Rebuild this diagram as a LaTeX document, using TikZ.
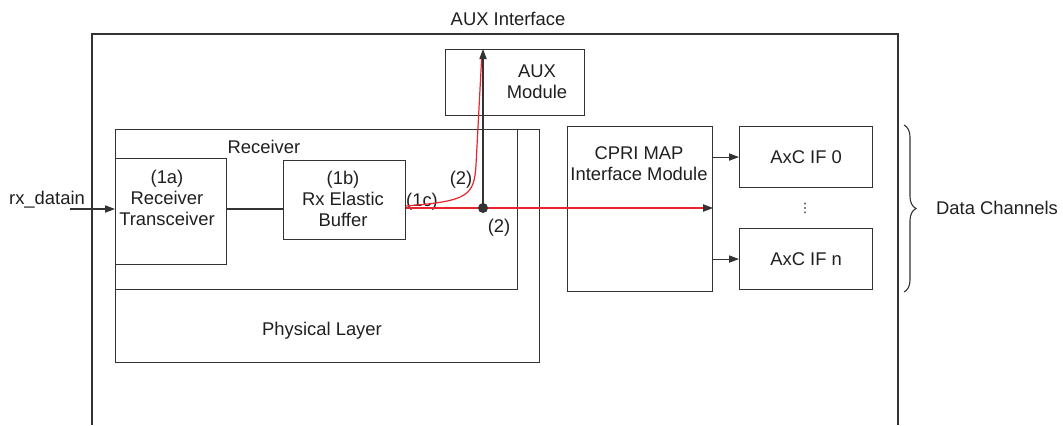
\documentclass[tikz,border=0pt]{standalone}
\usepackage{fontspec}
\setmainfont{Liberation Sans}
\newfontfamily\symfont{DejaVu Sans}
\usetikzlibrary{arrows.meta,decorations.pathreplacing}
\definecolor{lineg}{HTML}{333333}
\definecolor{sigred}{HTML}{E8242C}

\begin{document}
\begin{tikzpicture}[x=0.5pt,y=-0.5pt,
  font=\fontsize{9.2}{10.4}\selectfont,text=black!88,
  box/.style={draw=lineg,line width=0.55pt,anchor=north west,inner sep=0pt},
  txt/.style={align=center,inner sep=0pt},
  arr/.style={draw=lineg,line width=0.55pt,-{Triangle[length=5pt,width=3.6pt]}},
  redarr/.style={draw=sigred,line width=0.6pt,-{Triangle[length=5pt,width=3.6pt,color=lineg]}}]
 \useasboundingbox (0,0) rectangle (1063,425);
 \draw[lineg,line width=0.55pt] (92,425) -- (92,34) -- (898,34) -- (898,425);
 \node[txt] (title) at (508,19) {AUX Interface};
 \node[box,minimum width=69.5pt,minimum height=33pt] (aux) at (445,49) {};
 \node[txt] (auxtxt) at (537,82) {AUX\\Module};
 \node[box,minimum width=212pt,minimum height=116.5pt] (phy) at (115,129) {};
 \node[box,minimum width=201pt,minimum height=80pt] (rcv) at (115,129) {};
 \node[txt] (rcvtxt) at (264,147) {Receiver};
 \node[txt] (phytxt) at (322,331) {Physical Layer};
 \node[box,minimum width=55.5pt,minimum height=53pt] (trx) at (115,158) {};
 \node[txt] (trxtxt) at (167,198) {(1a)\\Receiver\\Transceiver};
 \node[box,minimum width=61pt,minimum height=39.5pt] (buf) at (283,160) {};
 \node[txt] (buftxt) at (343,199) {(1b)\\Rx Elastic\\Buffer};
 \node[box,minimum width=72.5pt,minimum height=82.5pt] (cpri) at (567,126) {};
 \node[txt] (cpritxt) at (639,164) {CPRI MAP\\Interface Module};
 \node[box,minimum width=66.5pt,minimum height=30.5pt] (axc0) at (739,126) {AxC IF 0};
 \node[box,minimum width=66.5pt,minimum height=30.5pt] (axcn) at (739,228) {AxC IF n};
 \node[txt,font=\symfont\fontsize{6.5}{7}\selectfont] (dots) at (805,208) {⋮};
 \node[txt] (rxtxt) at (47,200) {rx\_datain};
 \node[txt] (lab1c) at (422,202) {(1c)};
 \node[txt] (lab2a) at (461,180) {(2)};
 \node[txt] (lab2b) at (499,228) {(2)};
 \node[txt] (chan) at (997,208) {Data Channels};
 \coordinate (rxin) at (70,209);
 \coordinate (mid) at (250,209);
 \coordinate (tap) at (483,208);
 \coordinate (bend) at (476,165);
 \draw[arr] (rxin) -- (rxin -| trx.west);
 \draw[lineg,line width=0.55pt] (mid -| trx.east) -- (mid -| buf.west);
 \draw[redarr] (tap -| buf.east) -- (tap -| cpri.east);
 \draw[sigred,line width=0.6pt] ([yshift=1pt]tap -| buf.east) .. controls (468,201) and (474,196) .. (bend) -- ([xshift=-0.6pt,yshift=-3pt]tap |- aux.north);
 \draw[arr] (tap) -- (tap |- aux.north);
 \fill[lineg] (tap) circle (2.5pt);
 \draw[arr] (cpri.east |- axc0.west) -- (axc0.west);
 \draw[arr] (cpri.east |- axcn.west) -- (axcn.west);
 \draw[lineg,line width=0.55pt,decorate,decoration={brace,amplitude=6pt}] (904,125) -- (904,292);
\end{tikzpicture}
\end{document}
